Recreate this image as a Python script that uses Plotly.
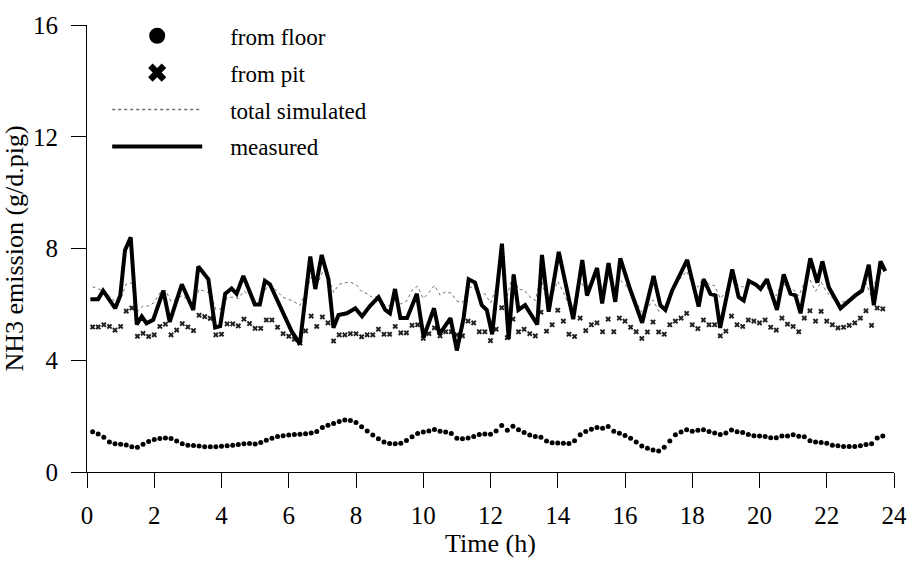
import plotly.graph_objects as go

# 10-minute sampling of the simulated series (hours)
TIME_H = [round((i + 1) / 6, 3) for i in range(142)]

FLOOR = [1.44, 1.36, 1.24, 1.07, 1.01, 0.99, 0.97, 0.90, 0.89, 0.99,
         1.09, 1.16, 1.20, 1.22, 1.20, 1.11, 1.01, 0.96, 0.95, 0.93,
         0.90, 0.90, 0.90, 0.92, 0.94, 0.96, 0.98, 1.01, 1.02, 1.00,
         1.06, 1.14, 1.21, 1.27, 1.30, 1.32, 1.34, 1.35, 1.37, 1.40,
         1.45, 1.59, 1.67, 1.74, 1.81, 1.86, 1.84, 1.77, 1.62, 1.47,
         1.32, 1.19, 1.07, 1.02, 1.01, 1.03, 1.13, 1.26, 1.38, 1.43,
         1.47, 1.52, 1.46, 1.43, 1.38, 1.21, 1.19, 1.22, 1.27, 1.34,
         1.36, 1.35, 1.47, 1.66, 1.49, 1.64, 1.51, 1.41, 1.32, 1.27,
         1.24, 1.11, 1.05, 1.04, 1.03, 1.02, 1.12, 1.33, 1.45, 1.53,
         1.59, 1.57, 1.63, 1.46, 1.39, 1.31, 1.21, 1.07, 0.93, 0.85,
         0.79, 0.75, 0.89, 1.11, 1.33, 1.43, 1.51, 1.46, 1.49, 1.51,
         1.45, 1.40, 1.34, 1.40, 1.50, 1.44, 1.41, 1.34, 1.30, 1.29,
         1.27, 1.23, 1.23, 1.29, 1.29, 1.33, 1.28, 1.26, 1.12, 1.07,
         1.06, 1.03, 0.96, 0.94, 0.91, 0.91, 0.91, 0.94, 0.98, 1.01,
         1.22, 1.29]

PIT = [5.19, 5.19, 5.27, 5.21, 5.08, 5.21, 5.76, 5.87, 4.86, 4.96,
       4.85, 4.91, 5.21, 5.29, 4.91, 5.08, 5.31, 5.19, 5.06, 5.61,
       5.56, 5.50, 4.91, 4.93, 5.30, 5.30, 5.23, 5.47, 5.31, 5.14,
       5.14, 5.44, 5.44, 5.18, 4.95, 4.86, 4.75, 4.61, 5.05, 5.58,
       5.21, 5.55, 5.34, 4.69, 4.91, 4.91, 4.95, 4.95, 4.84, 4.91,
       4.91, 5.11, 4.93, 4.93, 5.21, 4.98, 4.98, 5.25, 5.27, 4.78,
       4.95, 5.16, 4.87, 5.02, 5.02, 4.91, 4.87, 5.40, 5.34, 5.02,
       5.02, 4.70, 5.11, 5.88, 4.81, 5.47, 5.02, 5.11, 4.95, 4.87,
       5.72, 5.04, 5.27, 5.79, 5.40, 4.93, 4.85, 5.51, 5.06, 5.27,
       5.34, 5.02, 5.47, 5.02, 5.51, 5.40, 5.18, 5.02, 4.78, 5.01,
       5.37, 5.01, 4.93, 5.27, 5.40, 5.51, 5.68, 5.27, 5.13, 5.44,
       5.27, 5.27, 4.87, 5.04, 5.58, 5.27, 5.21, 5.44, 5.40, 5.34,
       5.44, 5.18, 5.08, 5.51, 5.29, 5.21, 5.02, 5.51, 5.77, 5.40,
       5.75, 5.40, 5.27, 5.16, 5.18, 5.25, 5.34, 5.51, 5.77, 5.25,
       5.87, 5.84]

TOTAL = [6.63, 6.55, 6.51, 6.28, 6.09, 6.20, 6.73, 6.77, 5.75, 5.95,
         5.94, 6.07, 6.41, 6.51, 6.11, 6.19, 6.32, 6.15, 6.01, 6.54,
         6.46, 6.40, 5.81, 5.85, 6.24, 6.26, 6.21, 6.48, 6.33, 6.14,
         6.20, 6.58, 6.65, 6.45, 6.25, 6.18, 6.09, 5.96, 6.42, 6.98,
         6.66, 7.14, 7.01, 6.43, 6.72, 6.77, 6.79, 6.72, 6.46, 6.38,
         6.23, 6.30, 6.00, 5.95, 6.22, 6.01, 6.11, 6.51, 6.65, 6.21,
         6.42, 6.68, 6.33, 6.45, 6.40, 6.12, 6.06, 6.62, 6.61, 6.36,
         6.38, 6.05, 6.58, 7.54, 6.30, 7.11, 6.53, 6.52, 6.27, 6.14,
         6.96, 6.15, 6.32, 6.83, 6.43, 5.95, 5.97, 6.84, 6.51, 6.80,
         6.93, 6.59, 7.10, 6.48, 6.90, 6.71, 6.39, 6.09, 5.71, 5.86,
         6.16, 5.76, 5.82, 6.38, 6.73, 6.94, 7.19, 6.73, 6.62, 6.95,
         6.72, 6.67, 6.21, 6.44, 7.08, 6.71, 6.62, 6.78, 6.70, 6.63,
         6.71, 6.41, 6.31, 6.80, 6.58, 6.54, 6.30, 6.77, 6.89, 6.47,
         6.81, 6.43, 6.23, 6.10, 6.09, 6.16, 6.25, 6.45, 6.75, 6.26,
         7.09, 7.13]

MEAS_T = [0.10, 0.33, 0.48, 0.84, 0.99, 1.13, 1.30, 1.48, 1.63, 1.77,
          1.97, 2.27, 2.46, 2.82, 3.16, 3.31, 3.61, 3.81, 3.96, 4.11,
          4.30, 4.45, 4.65, 4.99, 5.14, 5.29, 5.44, 5.68, 5.88, 6.08,
          6.33, 6.64, 6.79, 6.98, 7.18, 7.33, 7.48, 7.73, 7.98, 8.18,
          8.42, 8.67, 8.87, 9.01, 9.16, 9.32, 9.52, 9.81, 10.01, 10.16,
          10.32, 10.48, 10.81, 11.00, 11.20, 11.35, 11.54, 11.74, 11.89, 12.05,
          12.34, 12.54, 12.69, 12.83, 13.03, 13.39, 13.53, 13.73, 14.03, 14.46,
          14.73, 14.87, 15.17, 15.32, 15.51, 15.71, 15.86, 16.15, 16.51, 16.85,
          17.05, 17.20, 17.40, 17.85, 18.19, 18.34, 18.54, 18.69, 18.83, 19.19,
          19.38, 19.53, 19.68, 19.90, 20.03, 20.22, 20.52, 20.72, 20.92, 21.07,
          21.22, 21.51, 21.72, 21.87, 22.06, 22.41, 22.61, 22.85, 23.05, 23.25,
          23.40, 23.60, 23.74]

MEAS_V = [6.18, 6.18, 6.49, 5.86, 6.32, 7.94, 8.40, 5.28, 5.57, 5.32,
          5.45, 6.49, 5.37, 6.72, 5.80, 7.36, 6.90, 5.17, 5.22, 6.38,
          6.57, 6.38, 7.02, 6.00, 6.00, 6.84, 6.72, 6.09, 5.51, 5.05,
          4.58, 7.71, 6.55, 7.77, 6.90, 5.16, 5.62, 5.68, 5.86, 5.57,
          5.95, 6.26, 5.80, 5.68, 6.55, 5.51, 5.51, 6.38, 4.82, 5.28,
          5.86, 4.93, 5.51, 4.35, 5.51, 6.90, 6.78, 5.97, 5.80, 4.93,
          8.17, 4.76, 7.07, 5.80, 5.97, 5.28, 7.77, 5.74, 7.88, 5.47,
          7.59, 6.32, 7.30, 6.03, 7.48, 6.09, 7.65, 6.55, 5.34, 7.02,
          5.97, 5.80, 6.49, 7.59, 5.92, 6.90, 6.38, 6.32, 5.16, 7.25,
          6.26, 6.14, 6.84, 6.70, 6.55, 6.90, 5.80, 7.07, 6.38, 6.32,
          5.68, 7.65, 6.78, 7.54, 6.61, 5.86, 6.09, 6.32, 6.49, 7.42,
          5.97, 7.54, 7.19]

X_TICKS = [0, 2, 4, 6, 8, 10, 12, 14, 16, 18, 20, 22, 24]
Y_TICKS = [0, 4, 8, 12, 16]
LEGEND_NAMES = ["from floor", "from pit", "total simulated", "measured"]

SERIF = "Liberation Serif"
PAD = "\u00a0" * 4

fig = go.Figure()
# data traces (legend handled by the key-only traces below)
fig.add_trace(go.Scatter(
    x=TIME_H, y=TOTAL, mode="lines", showlegend=False,
    line=dict(color="#707070", width=1, dash="dot")))
fig.add_trace(go.Scatter(
    x=TIME_H, y=PIT, mode="markers", showlegend=False,
    marker=dict(symbol="x", size=5, color="#222222")))
fig.add_trace(go.Scatter(
    x=TIME_H, y=FLOOR, mode="markers", showlegend=False,
    marker=dict(symbol="circle", size=5, color="black")))
fig.add_trace(go.Scatter(
    x=MEAS_T, y=MEAS_V, mode="lines", showlegend=False,
    line=dict(color="black", width=4)))

# legend keys (no data points)
fig.add_trace(go.Scatter(
    x=[None], y=[None], mode="markers", name=PAD + LEGEND_NAMES[0], legendgroup="a",
    marker=dict(symbol="circle", size=30, color="black")))
fig.add_trace(go.Scatter(
    x=[None], y=[None], mode="markers", name=PAD + LEGEND_NAMES[1], legendgroup="b",
    marker=dict(symbol="x", size=30, color="black")))
fig.add_trace(go.Scatter(
    x=[None], y=[None], mode="lines", name=PAD + LEGEND_NAMES[2], legendgroup="c",
    line=dict(color="#707070", width=1.5, dash="dot")))
fig.add_trace(go.Scatter(
    x=[None], y=[None], mode="lines", name=PAD + LEGEND_NAMES[3], legendgroup="d",
    line=dict(color="black", width=4)))

fig.update_layout(
    width=919, height=564,
    margin=dict(l=87, r=23, t=15, b=91),
    paper_bgcolor="white", plot_bgcolor="white",
    font=dict(family=SERIF, color="black"),
    legend=dict(x=0.025, y=1.024, xanchor="left", yanchor="top",
                font=dict(family=SERIF, size=23, color="black"),
                itemwidth=90, itemsizing="trace", tracegroupgap=4,
                bgcolor="rgba(0,0,0,0)"),
    showlegend=True,
)
fig.update_xaxes(
    range=[0, 24], tickvals=X_TICKS, showgrid=False, zeroline=False,
    showline=True, linecolor="black", linewidth=1,
    ticks="outside", ticklen=15, tickwidth=1, tickcolor="black",
    tickfont=dict(family=SERIF, size=25, color="black"),
    ticklabelstandoff=6,
    title=dict(text="Time (h)", font=dict(family=SERIF, size=26, color="black"), standoff=5),
)
fig.update_yaxes(
    range=[0, 16], tickvals=Y_TICKS, showgrid=False, zeroline=False,
    showline=True, linecolor="black", linewidth=1,
    ticks="outside", ticklen=15, tickwidth=1, tickcolor="black",
    tickfont=dict(family=SERIF, size=25, color="black"),
    ticklabelstandoff=8,
    title=dict(text="NH3 emission (g/d.pig)", font=dict(family=SERIF, size=26, color="black"), standoff=2),
)

fig.write_html("out.html")
